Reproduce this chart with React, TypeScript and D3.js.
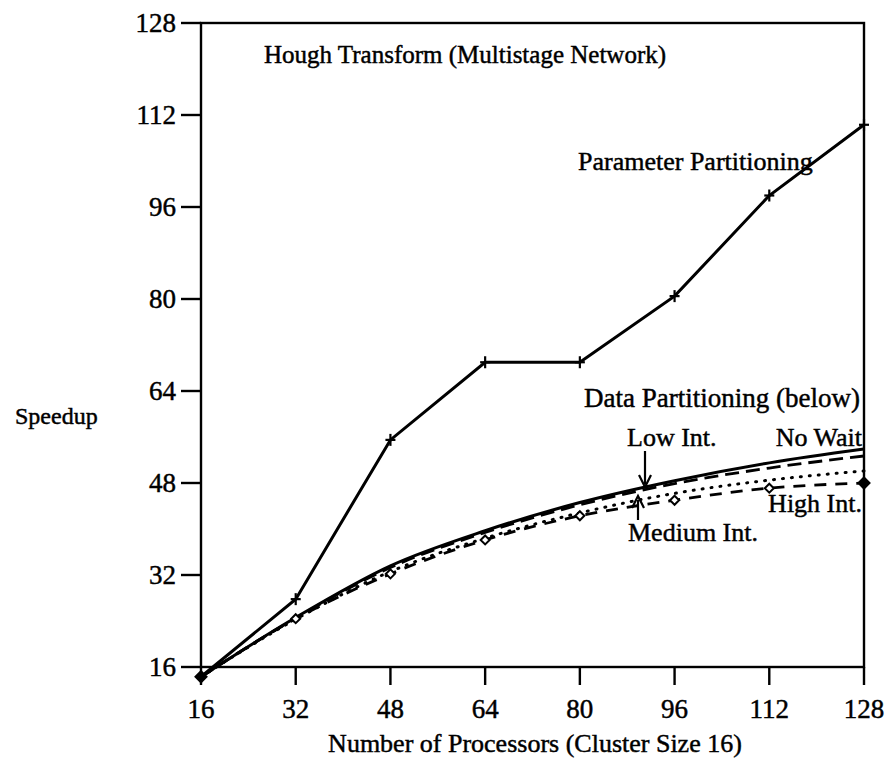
import React from "react";
import * as d3 from "d3";

const processors = [16, 32, 48, 64, 80, 96, 112, 128];
const paramPartitioning = [14.3, 27.8, 55.5, 69, 69, 80.5, 98, 110.3];
const noWait = [14.3, 24.6, 33.6, 39.7, 44.6, 48.4, 51.5, 53.9];
const lowInt = [14.3, 24.5, 33.3, 39.4, 44.2, 47.9, 50.6, 52.7];
const mediumInt = [14.3, 24.3, 32.6, 38.4, 42.8, 46.2, 48.5, 50.1];
const highInt = [14.3, 24.4, 32.2, 38.1, 42.3, 45.0, 47.1, 48.0];
const xTicks = [16, 32, 48, 64, 80, 96, 112, 128];
const yTicks = [16, 32, 48, 64, 80, 96, 112, 128];

const W = 888, H = 759;
const FONT = "'Liberation Serif', 'Times New Roman', serif";

export default function App() {
  const x = d3.scaleLinear().domain([16, 128]).range([201, 864]);
  const y = d3.scaleLinear().domain([16, 128]).range([667, 23]);
  const [x0, x1] = x.range();
  const [y0, y1] = y.range();

  const lineStraight = d3.line<number>().x((_, i) => x(processors[i])).y((d) => y(d));
  const lineSmooth = d3.line<number>().x((_, i) => x(processors[i])).y((d) => y(d)).curve(d3.curveMonotoneX);

  const textStyle = { stroke: "#000", strokeWidth: 0.45 } as React.CSSProperties;

  return (
    <svg width={W} height={H} style={{ position: "absolute", left: 0, top: 0, background: "#fff" }} fontFamily={FONT}>
      {/* frame */}
      <rect x={x0} y={y1} width={x1 - x0} height={y0 - y1} fill="none" stroke="#000" strokeWidth={2.4} />
      {/* y ticks */}
      {yTicks.map((t) => (
        <g key={"y" + t}>
          <line x1={x0 - 20} x2={x0} y1={y(t)} y2={y(t)} stroke="#000" strokeWidth={2.4} />
          <text x={x0 - 25} y={y(t)} dy="0.35em" textAnchor="end" fontSize={27} style={textStyle}>{t}</text>
        </g>
      ))}
      {/* x ticks */}
      {xTicks.map((t) => (
        <g key={"x" + t}>
          <line x1={x(t)} x2={x(t)} y1={y0} y2={y0 + 18} stroke="#000" strokeWidth={2.4} />
          <text x={x(t)} y={y0 + 42} dy="0.35em" textAnchor="middle" fontSize={27} style={textStyle}>{t}</text>
        </g>
      ))}
      <text x={535} y={752} textAnchor="middle" fontSize={26} style={textStyle}>Number of Processors (Cluster Size 16)</text>
      <text x={15} y={424} fontSize={24} style={textStyle}>Speedup</text>

      {/* data partitioning lines */}
      <path d={lineSmooth(noWait) || ""} fill="none" stroke="#000" strokeWidth={3} />
      <path d={lineSmooth(lowInt) || ""} fill="none" stroke="#000" strokeWidth={2.8} strokeDasharray="14,7" />
      <path d={lineSmooth(mediumInt) || ""} fill="none" stroke="#000" strokeWidth={3} strokeDasharray="1,8" strokeLinecap="round" />
      <path d={lineSmooth(highInt) || ""} fill="none" stroke="#000" strokeWidth={2.8} strokeDasharray="12,9" />
      {highInt.map((v, i) => {
        const filled = i === 0 || i === highInt.length - 1;
        const cx = x(processors[i]), cy = y(v);
        const r = filled ? 5.5 : 4.5;
        return (
          <path key={"h" + i} d={`M${cx},${cy - r}L${cx + r},${cy}L${cx},${cy + r}L${cx - r},${cy}Z`}
            fill={filled ? "#000" : "#fff"} stroke="#000" strokeWidth={2} />
        );
      })}

      {/* parameter partitioning */}
      <path d={lineStraight(paramPartitioning) || ""} fill="none" stroke="#000" strokeWidth={3} />
      {paramPartitioning.map((v, i) => i === 0 ? null : (
        <g key={"p" + i} stroke="#000" strokeWidth={2.2}>
          <line x1={x(processors[i]) - 5} x2={x(processors[i]) + 5} y1={y(v)} y2={y(v)} />
          <line x1={x(processors[i])} x2={x(processors[i])} y1={y(v) - 6} y2={y(v) + 6} />
        </g>
      ))}

      {/* annotations */}
      <text x={264} y={63} fontSize={25} style={textStyle}>Hough Transform (Multistage Network)</text>
      <text x={578} y={170} fontSize={26} style={textStyle}>Parameter Partitioning</text>
      <text x={860} y={407} textAnchor="end" fontSize={27} style={textStyle}>Data Partitioning (below)</text>
      <text x={627} y={446} fontSize={26} style={textStyle}>Low Int.</text>
      <text x={862} y={446} textAnchor="end" fontSize={26} style={textStyle}>No Wait</text>
      <text x={862} y={512} textAnchor="end" fontSize={26} style={textStyle}>High Int.</text>
      <text x={628} y={541} fontSize={26} style={textStyle}>Medium Int.</text>
      {/* arrows */}
      <line x1={645} x2={645} y1={451} y2={484} stroke="#000" strokeWidth={2.2} />
      <path d="M639,475 L645,487 L651,475" fill="none" stroke="#000" strokeWidth={2.2} />
      <line x1={638} x2={638} y1={520} y2={500} stroke="#000" strokeWidth={2.2} />
      <path d="M632,508 L638,496 L644,508" fill="none" stroke="#000" strokeWidth={2.2} />
    </svg>
  );
}
